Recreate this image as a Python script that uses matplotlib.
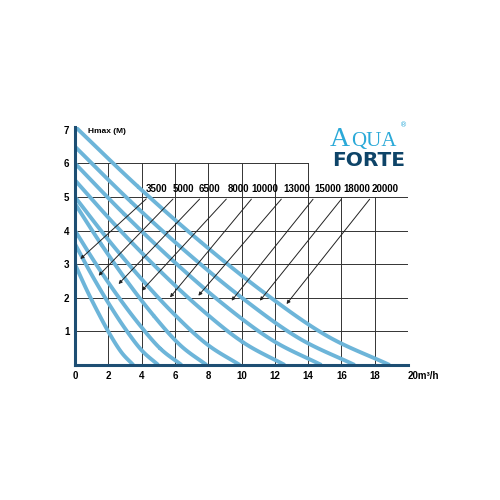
import numpy as np
import matplotlib
matplotlib.use("Agg")
import matplotlib.pyplot as plt

models = ["3500","5000","6500","8000","10000","13000","15000","18000","20000"]
curve_x = [
 [0,.7,1.4,2.1,2.8,3.5],
 [0,1,2,3,4,5],
 [0,1.28,2.56,3.84,5.12,6.4],
 [0,1.58,3.16,4.74,6.32,7.9],
 [0,1.98,3.96,5.94,7.92,9.9],
 [0,2.52,5.04,7.56,10.08,12.6],
 [0,2.96,5.92,8.88,11.84,14.8],
 [0,3.36,6.72,10.08,13.44,16.8],
 [0,3.78,7.56,11.34,15.12,18.9],
]
curve_y = [
 [3.0,2.24,1.55,0.91,0.37,0],
 [3.6,2.69,1.85,1.09,0.44,0],
 [4.0,2.99,2.06,1.22,0.49,0],
 [4.8,3.59,2.47,1.46,0.59,0],
 [5.0,3.74,2.58,1.52,0.62,0],
 [5.5,4.11,2.83,1.67,0.68,0],
 [6.0,4.49,3.09,1.82,0.74,0],
 [6.5,4.86,3.35,1.98,0.80,0],
 [7.1,5.31,3.66,2.16,0.87,0],
]
label_x = [4.9,6.5,8.1,9.8,11.4,13.3,15.2,16.9,18.6]
arrow_start = [4.4,6.0,7.6,9.2,10.7,12.5,14.4,16.1,17.8]
arrow_end = [(0.2,3.1),(1.3,2.6),(2.5,2.35),(3.9,2.15),(5.6,1.95),(7.3,2.0),(9.3,1.85),(11.0,1.85),(12.6,1.75)]
xticks = [0,2,4,6,8,10,12,14,16,18,20]
xticklabels = ["0","2","4","6","8","10","12","14","16","18","20m³/h"]
yticks = [1,2,3,4,5,6,7]

def catmull(xs, ys, n=20):
    P = np.column_stack([xs, ys]).astype(float)
    P = np.vstack([2*P[0]-P[1], P, 2*P[-1]-P[-2]])
    out = []
    t = np.linspace(0, 1, n)[:, None]
    for i in range(1, len(P)-2):
        p0, p1, p2, p3 = P[i-1], P[i], P[i+1], P[i+2]
        seg = 0.5*((2*p1) + (-p0+p2)*t + (2*p0-5*p1+4*p2-p3)*t**2 + (-p0+3*p1-3*p2+p3)*t**3)
        out.append(seg)
    return np.vstack(out)

fig = plt.figure(figsize=(5,5), dpi=100)
ax = fig.add_axes([0.15, 0.27, 0.666, 0.477])
ax.set_xlim(0,20); ax.set_ylim(0,7.1)
gc = "#333333"
for xv in range(2,21,2):
    ax.plot([xv,xv],[0,6 if xv<=14 else 5], color=gc, lw=0.7, zorder=1)
for yv in range(1,6):
    ax.plot([0,20],[yv,yv], color=gc, lw=0.7, zorder=1)
ax.plot([0,14],[6,6], color=gc, lw=0.7, zorder=1)

for xs, ys in zip(curve_x, curve_y):
    pts = catmull(xs, ys)
    ax.plot(pts[:,0], pts[:,1], color="#6db5d9", lw=2.8, zorder=2, solid_capstyle="butt")

for m, lx, sx, (ex, ey) in zip(models, label_x, arrow_start, arrow_end):
    ax.text(lx, 5.1, m, ha="center", va="bottom", fontsize=7, fontweight="bold", family="Liberation Sans")
    ax.annotate("", xy=(ex,ey), xytext=(sx,5.0),
                arrowprops=dict(arrowstyle="-|>", color="#222222", lw=0.7, mutation_scale=5), zorder=3)

for s in ["top","right"]:
    ax.spines[s].set_visible(False)
for s in ["left","bottom"]:
    ax.spines[s].set_color("#1d4e73"); ax.spines[s].set_linewidth(2.2)
ax.set_xticks(xticks); ax.set_xticklabels(xticklabels)
ax.set_yticks(yticks)
ax.tick_params(length=0, labelsize=7, pad=4)
for t in ax.get_xticklabels()+ax.get_yticklabels():
    t.set_fontweight("bold"); t.set_family("Liberation Sans")
ax.get_xticklabels()[-1].set_horizontalalignment("left")
ax.get_xticklabels()[-1].set_x(19.6)
ax.text(0.8, 6.95, "Hmax (M)", fontsize=6, fontweight="bold", va="center", family="Liberation Sans")

fig.text(0.66, 0.708, "A", color="#2aa9d8", fontsize=20, ha="left", family="Liberation Serif")
fig.text(0.703, 0.708, "QUA", color="#2aa9d8", fontsize=15, ha="left", family="Liberation Serif")
fig.text(0.8, 0.745, "®", color="#2aa9d8", fontsize=5, ha="left")
fig.text(0.664, 0.667, "FORTE", color="#0e4468", fontsize=14.5, fontweight="bold", ha="left", family="DejaVu Sans")
fig.savefig("out.png", dpi=100, facecolor="white")
